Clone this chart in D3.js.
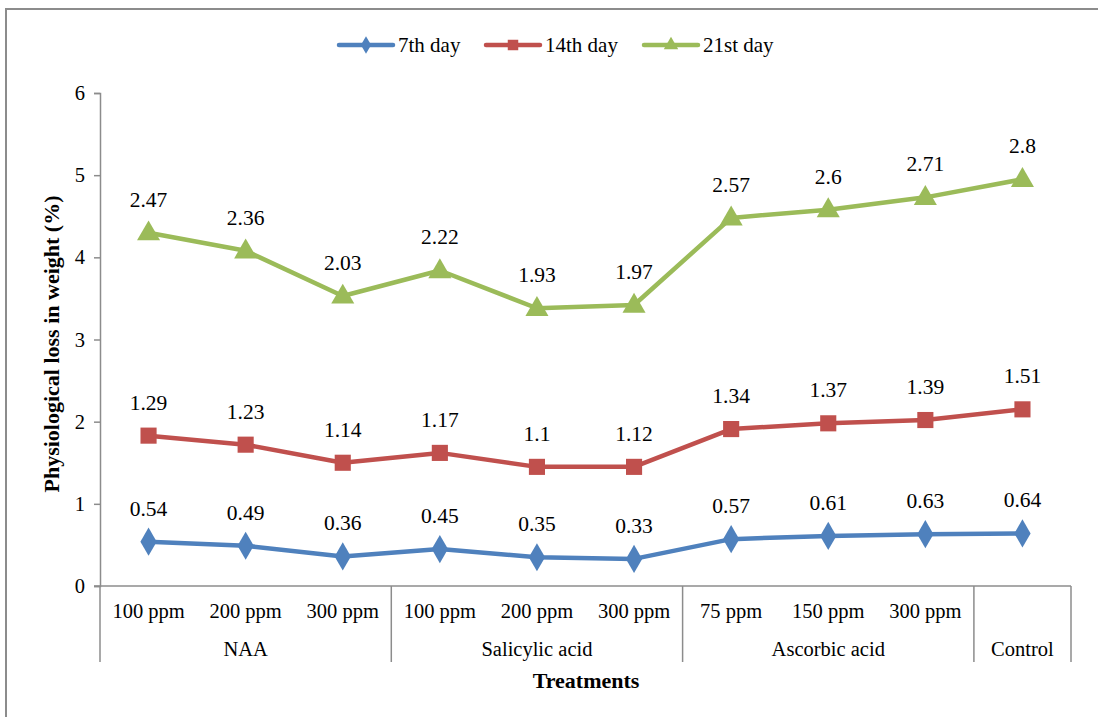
<!DOCTYPE html>
<html>
<head>
<meta charset="utf-8">
<script src="https://cdn.jsdelivr.net/npm/d3@7"></script>
<style>
  html, body { margin: 0; padding: 0; background: #fff; }
  svg { display: block; }
  svg text { font-family: "Liberation Serif", "Times New Roman", serif !important; fill: #000; }
</style>
</head>
<body>
<svg id="chart" width="1098" height="717"></svg>
<script>
// Treatments (inner level) and their groups (outer level)
const doses = ["100 ppm", "200 ppm", "300 ppm", "100 ppm", "200 ppm", "300 ppm", "75 ppm", "150 ppm", "300 ppm", ""];
const groups = [
  { name: "NAA", span: 3 },
  { name: "Salicylic acid", span: 3 },
  { name: "Ascorbic acid", span: 3 },
  { name: "Control", span: 1 }
];

// Physiological loss in weight (%) per storage day
const day7  = [0.54, 0.49, 0.36, 0.45, 0.35, 0.33, 0.57, 0.61, 0.63, 0.64];
const day14 = [1.29, 1.23, 1.14, 1.17, 1.10, 1.12, 1.34, 1.37, 1.39, 1.51];
const day21 = [2.47, 2.36, 2.03, 2.22, 1.93, 1.97, 2.57, 2.60, 2.71, 2.80];

const seriesNames = ["7th day", "14th day", "21st day"];
const seriesColors = ["#4F81BD", "#C0504D", "#9BBB59"];
const seriesShapes = [d3.symbolDiamond, d3.symbolSquare, d3.symbolTriangle];
const yTicks = [0, 1, 2, 3, 4, 5, 6];

const FONT = "'Liberation Serif', 'Times New Roman', serif";
const FS = "20.5px";
const FS_LBL = "21.5px";
const FS_TITLE = "22px";

const svg = d3.select("#chart");
const W = 1098, H = 717;
const m = { left: 100, right: 1071, top: 93, bottom: 586 };

// Outer chart-area border
svg.append("rect")
  .attr("x", 6).attr("y", 9)
  .attr("width", W + 10).attr("height", H + 10)
  .attr("fill", "none").attr("stroke", "#8c8c8c").attr("stroke-width", 2);

// Stacked line layout: each series sits on top of the previous one
const rows = doses.map((d, i) => ({ i, s0: day7[i], s1: day14[i], s2: day21[i] }));
const stacked = d3.stack().keys(["s0", "s1", "s2"])(rows);
const raw = [day7, day14, day21];

const x = d3.scaleBand().domain(d3.range(doses.length)).range([m.left, m.right]);
const y = d3.scaleLinear().domain([0, 6]).range([m.bottom, m.top]);
const cx = i => x(i) + x.bandwidth() / 2;

// Y axis
const yAxis = svg.append("g")
  .attr("transform", `translate(${m.left},0)`)
  .call(d3.axisLeft(y).tickValues(yTicks).tickSize(6).tickPadding(9).tickFormat(d3.format("d")));
yAxis.attr("font-family", null).attr("font-size", null);
yAxis.select(".domain").attr("stroke", "#8c8c8c").attr("stroke-width", 1.5);
yAxis.selectAll(".tick line").attr("stroke", "#8c8c8c").attr("stroke-width", 1.5);
yAxis.selectAll(".tick text").style("font-size", FS)
  .style("font-family", FONT).attr("fill", "#000");

// Category axis (two levels)
const catG = svg.append("g");
catG.append("line")
  .attr("x1", m.left - 6).attr("x2", m.right)
  .attr("y1", m.bottom).attr("y2", m.bottom)
  .attr("stroke", "#8c8c8c").attr("stroke-width", 1.5);

let start = 0;
const boundaries = [0];
groups.forEach(g => { start += g.span; boundaries.push(start); });
boundaries.forEach(b => {
  const bx = b < doses.length ? x(b) : m.right;
  catG.append("line")
    .attr("x1", bx).attr("x2", bx)
    .attr("y1", m.bottom).attr("y2", 662)
    .attr("stroke", "#8c8c8c").attr("stroke-width", 1.5);
});

catG.selectAll("text.dose").data(doses).join("text")
  .attr("class", "dose")
  .attr("x", (d, i) => cx(i)).attr("y", 618)
  .attr("text-anchor", "middle").style("font-size", FS).style("font-family", FONT)
  .text(d => d);

let acc = 0;
groups.forEach(g => {
  const x0 = x(acc);
  const x1 = acc + g.span < doses.length ? x(acc + g.span) : m.right;
  catG.append("text")
    .attr("x", (x0 + x1) / 2).attr("y", 656)
    .attr("text-anchor", "middle").style("font-size", FS).style("font-family", FONT)
    .text(g.name);
  acc += g.span;
});

// Axis titles
svg.append("text")
  .attr("x", 586).attr("y", 688)
  .attr("text-anchor", "middle").style("font-size", FS_TITLE).style("font-weight", "bold").style("font-family", FONT)
  .text("Treatments");
svg.append("text")
  .attr("transform", `translate(59,344) rotate(-90)`)
  .attr("text-anchor", "middle").style("font-size", FS_TITLE).style("font-weight", "bold").style("font-family", FONT)
  .text("Physiological loss in weight (%)");

// Lines, markers and value labels
const line = d3.line().x(d => cx(d.data.i)).y(d => y(d[1]));
const symSizes = [230, 260, 230];
stacked.forEach((layer, k) => {
  const g = svg.append("g");
  g.append("path").datum(layer)
    .attr("d", line)
    .attr("fill", "none").attr("stroke", seriesColors[k])
    .attr("stroke-width", 4.5).attr("stroke-linejoin", "round");
  g.selectAll("path.mk").data(layer).join("path")
    .attr("class", "mk")
    .attr("transform", d => `translate(${cx(d.data.i)},${y(d[1]) + (k === 2 ? 1 : 0)})`)
    .attr("d", d3.symbol().type(seriesShapes[k]).size(symSizes[k]))
    .attr("fill", seriesColors[k]);
  g.selectAll("text.lbl").data(layer).join("text")
    .attr("class", "lbl")
    .attr("x", d => cx(d.data.i)).attr("y", d => y(d[1]) - 26)
    .attr("text-anchor", "middle").style("font-size", FS_LBL).style("font-family", FONT)
    .text(d => raw[k][d.data.i]);
});

// Legend
const legendX = [339, 486, 644];
seriesNames.forEach((name, k) => {
  const lg = svg.append("g").attr("transform", `translate(${legendX[k]},45)`);
  lg.append("line").attr("x1", 0).attr("x2", 54).attr("y1", 0).attr("y2", 0)
    .attr("stroke", seriesColors[k]).attr("stroke-width", 4.5).attr("stroke-linecap", "round");
  lg.append("path").attr("transform", "translate(27,0)")
    .attr("d", d3.symbol().type(seriesShapes[k]).size(k === 1 ? 110 : 90))
    .attr("fill", seriesColors[k]);
  lg.append("text").attr("x", 59).attr("y", 7)
    .style("font-size", "21px").style("font-family", FONT).text(name);
});
</script>
</body>
</html>
